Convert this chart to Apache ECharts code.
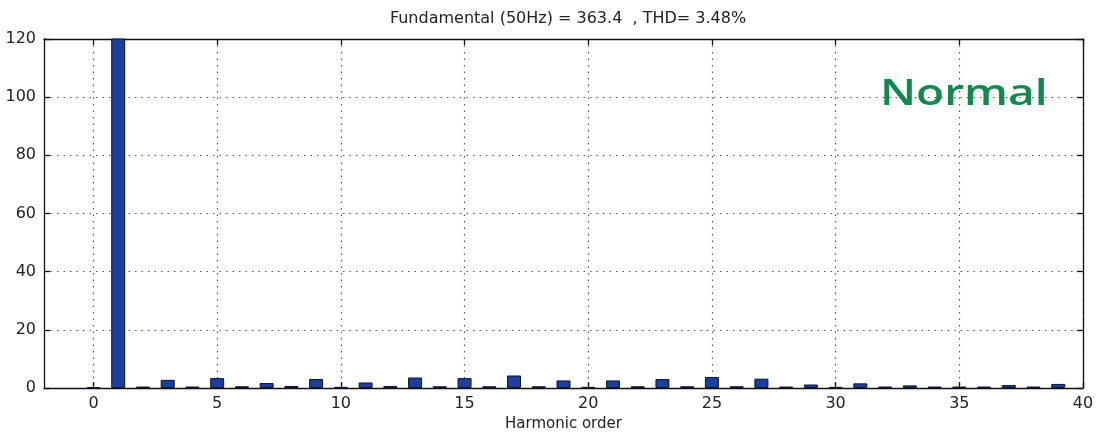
<!DOCTYPE html>
<html>
<head>
<meta charset="utf-8">
<script src="https://cdn.jsdelivr.net/npm/echarts@6/dist/echarts.min.js"></script>
<style>
  html, body { margin: 0; padding: 0; background: #fff; }
  #chart { width: 1102px; height: 438px; }
</style>
</head>
<body>
<div id="chart"></div>
<script>
// Harmonic spectrum: amplitude of each harmonic order (fundamental = order 1)
const harmonicOrders = [0, 1, 2, 3, 4, 5, 6, 7, 8, 9,
  10, 11, 12, 13, 14, 15, 16, 17, 18, 19,
  20, 21, 22, 23, 24, 25, 26, 27, 28, 29,
  30, 31, 32, 33, 34, 35, 36, 37, 38, 39];
const amplitudes = [0.3, 363.4, 0.5, 2.8, 0.5, 3.4, 0.6, 1.7, 0.7, 3.1,
  0.4, 1.9, 0.7, 3.6, 0.6, 3.4, 0.6, 4.3, 0.6, 2.6,
  0.4, 2.6, 0.6, 3.1, 0.6, 3.8, 0.6, 3.2, 0.5, 1.2,
  0.4, 1.6, 0.5, 0.9, 0.5, 0.5, 0.5, 1.0, 0.5, 1.4];
const xTicks = [0, 5, 10, 15, 20, 25, 30, 35, 40];
const titleText = 'Fundamental (50Hz) = 363.4  , THD= 3.48%';
const statusText = 'Normal';

const FONT = 'DejaVu Sans';
const dotted = { color: '#555', width: 1.2, type: [1.5, 5] };

const chart = echarts.init(document.getElementById('chart'), null, { renderer: 'canvas' });

const baseX = {
  type: 'value', min: -2, max: 40,
  axisLine: { show: true, onZero: false, lineStyle: { color: '#111', width: 1.3 } },
  axisTick: { show: true, inside: true, length: 6, customValues: xTicks, lineStyle: { color: '#111', width: 1.3 } }
};
const baseY = {
  type: 'value', min: 0, max: 120, interval: 20,
  axisLine: { show: true, onZero: false, lineStyle: { color: '#111', width: 1.3 } },
  axisTick: { show: true, inside: true, length: 6, lineStyle: { color: '#111', width: 1.3 } }
};

chart.setOption({
  animation: false,
  backgroundColor: '#fff',
  title: {
    text: titleText,
    left: 563, top: 6, textAlign: 'center',
    textStyle: { fontFamily: FONT, fontSize: 16, fontWeight: 'normal', color: '#222' }
  },
  grid: { left: 44, right: 19, top: 39, bottom: 50, show: false },
  xAxis: [
    Object.assign({}, baseX, {
      position: 'bottom',
      name: 'Harmonic order', nameLocation: 'middle', nameGap: 26,
      nameTextStyle: { fontFamily: FONT, fontSize: 15, color: '#222' },
      axisLabel: { customValues: xTicks, fontFamily: FONT, fontSize: 16, color: '#222', margin: 8 },
      splitLine: { show: true, lineStyle: dotted }
    }),
    Object.assign({}, baseX, {
      position: 'top',
      axisLabel: { show: false },
      splitLine: { show: false }
    })
  ],
  yAxis: [
    Object.assign({}, baseY, {
      position: 'left',
      axisLabel: { fontFamily: FONT, fontSize: 16, color: '#222', margin: 8 },
      splitLine: { show: true, lineStyle: dotted }
    }),
    Object.assign({}, baseY, {
      position: 'right',
      axisLabel: { show: false },
      splitLine: { show: false }
    })
  ],
  series: [{
    type: 'bar',
    xAxisIndex: 0, yAxisIndex: 0,
    barWidth: 14,
    clip: true,
    data: harmonicOrders.map((h, i) => [h, amplitudes[i]]),
    itemStyle: { color: '#1d3f9c', borderColor: '#0b1535', borderWidth: 1 }
  }],
  graphic: [{
    type: 'text',
    x: 880, y: 95,
    scaleX: 1.28,
    style: {
      text: statusText,
      font: '600 36px "Open Sans"',
      fill: '#0f8a4e',
      verticalAlign: 'middle',
      align: 'left'
    }
  }]
});
</script>
</body>
</html>
